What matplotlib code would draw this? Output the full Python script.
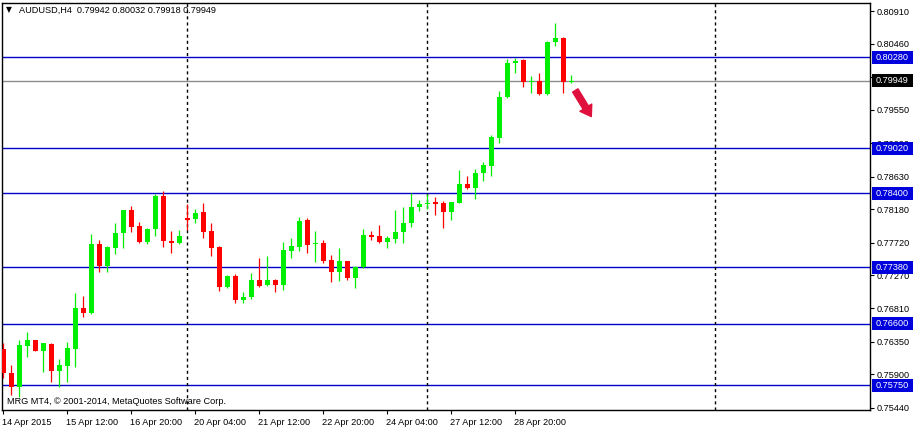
import matplotlib
matplotlib.use("Agg")
import matplotlib.pyplot as plt
from matplotlib.patches import Rectangle
import matplotlib.transforms as mtransforms

# ---------------- data (AUDUSD H4) ----------------
opens = [0.76250, 0.75919, 0.75726, 0.76292, 0.76375, 0.76223, 0.76319, 0.75947, 0.76016, 0.76250,
         0.76816, 0.76747, 0.77699, 0.77396, 0.77644, 0.77851, 0.78169, 0.77948, 0.77727, 0.77906,
         0.78362, 0.77741, 0.77713, 0.78058, 0.78044, 0.78141, 0.77879, 0.77658, 0.77106, 0.77258,
         0.76927, 0.76968, 0.77203, 0.77134, 0.77203, 0.77134, 0.77603, 0.77658, 0.78031, 0.77699,
         0.77713, 0.77479, 0.77313, 0.77465, 0.77230, 0.77382, 0.77824, 0.77810, 0.77727, 0.77768,
         0.77865, 0.77989, 0.78210, 0.78251, 0.78279, 0.78265, 0.78141, 0.78265, 0.78527, 0.78472,
         0.78679, 0.78776, 0.79162, 0.79728, 0.80197, 0.80239, 0.79935, 0.79949, 0.79769, 0.80487,
         0.80542, 0.79942]
highs = [0.76333, 0.76030, 0.76375, 0.76485, 0.76375, 0.76340, 0.76330, 0.76112, 0.76347, 0.77023,
         0.76982, 0.77837, 0.77755, 0.77672, 0.77989, 0.78175, 0.78224, 0.78003, 0.77920, 0.78389,
         0.78431, 0.77879, 0.77893, 0.78251, 0.78182, 0.78265, 0.77989, 0.77665, 0.77272, 0.77285,
         0.77037, 0.77299, 0.77506, 0.77534, 0.77210, 0.77727, 0.77782, 0.78072, 0.78058, 0.77879,
         0.77755, 0.77548, 0.77644, 0.77470, 0.77396, 0.77906, 0.77879, 0.77962, 0.77810, 0.78169,
         0.78210, 0.78403, 0.78307, 0.78389, 0.78348, 0.78293, 0.78285, 0.78721, 0.78638, 0.78734,
         0.78831, 0.79204, 0.79811, 0.80252, 0.80266, 0.80252, 0.80018, 0.80059, 0.80501, 0.80749,
         0.80556, 0.80032]
lows = [0.75850, 0.75616, 0.75588, 0.76140, 0.76223, 0.75933, 0.75795, 0.75726, 0.75795, 0.76002,
        0.76692, 0.76740, 0.77313, 0.77313, 0.77561, 0.77644, 0.77865, 0.77720, 0.77699, 0.77810,
        0.77658, 0.77575, 0.77699, 0.77893, 0.77989, 0.77782, 0.77534, 0.77051, 0.77092, 0.76885,
        0.76885, 0.76940, 0.77106, 0.77120, 0.77037, 0.77065, 0.77506, 0.77603, 0.77575, 0.77451,
        0.77437, 0.77175, 0.77189, 0.77203, 0.77092, 0.77375, 0.77755, 0.77713, 0.77644, 0.77713,
        0.77713, 0.77934, 0.78155, 0.78182, 0.78100, 0.77920, 0.78031, 0.78260, 0.78458, 0.78320,
        0.78569, 0.78638, 0.79093, 0.79714, 0.80059, 0.79866, 0.79783, 0.79756, 0.79756, 0.80432,
        0.79783, 0.79918]
closes = [0.75919, 0.75726, 0.76306, 0.76375, 0.76223, 0.76333, 0.75947, 0.76030, 0.76264, 0.76816,
          0.76747, 0.77699, 0.77396, 0.77658, 0.77851, 0.78169, 0.77934, 0.77727, 0.77906, 0.78362,
          0.77741, 0.77713, 0.77810, 0.78031, 0.78127, 0.77865, 0.77644, 0.77106, 0.77258, 0.76927,
          0.76968, 0.77203, 0.77120, 0.77203, 0.77134, 0.77617, 0.77672, 0.78017, 0.77686, 0.77713,
          0.77465, 0.77313, 0.77465, 0.77230, 0.77382, 0.77824, 0.77796, 0.77727, 0.77782, 0.77865,
          0.77989, 0.78210, 0.78251, 0.78265, 0.78251, 0.78141, 0.78279, 0.78527, 0.78472, 0.78679,
          0.78790, 0.79176, 0.79728, 0.80197, 0.80225, 0.79935, 0.79949, 0.79769, 0.80487, 0.80542,
          0.79935, 0.79949]

level_lines = [0.80280, 0.79020, 0.78400, 0.77380, 0.76600, 0.75750]
current_price = 0.79949

price_ticks = [0.80910, 0.80460, 0.80000, 0.79550, 0.79090, 0.78630, 0.78180,
               0.77720, 0.77270, 0.76810, 0.76350, 0.75900, 0.75440]
time_tick_idx = [0, 8, 16, 24, 32, 40, 48, 56, 64]
time_tick_labels = ["14 Apr 2015", "15 Apr 12:00", "16 Apr 20:00", "20 Apr 04:00",
                    "21 Apr 12:00", "22 Apr 20:00", "24 Apr 04:00", "27 Apr 12:00",
                    "28 Apr 20:00"]
separator_idx = [23, 53, 89]
title = "AUDUSD,H4  0.79942 0.80032 0.79918 0.79949"
copyright_text = "MRG MT4, \u00a9 2001-2014, MetaQuotes Software Corp."

# ---------------- figure ----------------
W, H = 913, 428
fig = plt.figure(figsize=(W / 100, H / 100), dpi=100)
plt.rcParams['font.family'] = ['Liberation Sans', 'DejaVu Sans']
FS = 6.6

ax_l, ax_r, ax_t, ax_b = 2, 870, 2.5, 410
ax = fig.add_axes([ax_l / W, (H - ax_b) / H, (ax_r - ax_l) / W, (ax_b - ax_t) / H])

ymin, ymax = 0.754086, 0.810321
ax.set_ylim(ymin, ymax)
ax.set_xlim(-0.1625, 108.34)
px_price = (ymax - ymin) / (ax_b - ax_t)

GREEN = '#00ee00'
RED = '#ff0000'
n = len(opens)
xs = list(range(n))
for i in xs:
    o, h, l, c = opens[i], highs[i], lows[i], closes[i]
    col = GREEN if c >= o else RED
    ax.vlines(i, l, h, color=col, lw=0.9, zorder=3)
    bot = min(o, c)
    ht = max(abs(c - o), px_price * 1.2)
    if abs(c - o) < px_price * 1.2:
        bot = (o + c) / 2 - ht / 2
    ax.add_patch(Rectangle((i - 0.31, bot), 0.62, ht, facecolor=col, edgecolor='none', zorder=4))

# level lines
for lv in level_lines:
    ax.axhline(lv, color='#0000c8', lw=1.0, zorder=2)
ax.axhline(current_price, color='#8c8c8c', lw=1.0, zorder=2)

# period separators
for s in separator_idx:
    ax.axvline(s, color='black', lw=1.0, linestyle=(0, (2.2, 2.2)), zorder=2.5)

# axes styling
for sp in ax.spines.values():
    sp.set_color('black')
    sp.set_linewidth(1.0)
ax.yaxis.tick_right()
ax.set_yticks(price_ticks)
ax.set_yticklabels([f"{p:.5f}" for p in price_ticks])
ax.tick_params(axis='y', length=3, width=0.8, pad=1.5, labelsize=FS, direction='out')
ax.set_xticks(time_tick_idx)
ax.set_xticklabels(time_tick_labels, ha='left')
ax.tick_params(axis='x', length=3, width=0.8, pad=2.5, labelsize=FS, direction='out')
off = mtransforms.ScaledTranslation(-1.5 / 100, 0, fig.dpi_scale_trans)
for lab in ax.get_xticklabels():
    lab.set_transform(lab.get_transform() + off)

# right-side price label boxes
bt = mtransforms.blended_transform_factory(ax.transAxes, ax.transData)
box_x0 = 1 + 2 / (ax_r - ax_l)
box_w = 41 / (ax_r - ax_l)
box_h = 13 * px_price

def price_box(val, fc):
    ax.add_patch(Rectangle((box_x0, val - box_h / 2), box_w, box_h, transform=bt,
                           facecolor=fc, edgecolor='none', clip_on=False, zorder=10))
    ax.text(box_x0 + 4 / (ax_r - ax_l), val, f"{val:.5f}", transform=bt, ha='left',
            va='center', color='white', fontsize=FS, zorder=11, clip_on=False)

for lv in level_lines:
    price_box(lv, '#0000dc')
price_box(current_price, 'black')

# title & copyright
ax.text(4 / (ax_r - ax_l), (ax_b - 10) / (ax_b - ax_t), "\u25bc", transform=ax.transAxes,
        fontsize=5.5, family='DejaVu Sans', va='center', ha='left', color='black')
ax.text(17 / (ax_r - ax_l), (ax_b - 10) / (ax_b - ax_t), title, transform=ax.transAxes,
        fontsize=FS, va='center', ha='left', color='black')
ax.text(5 / (ax_r - ax_l), (ax_b - 402) / (ax_b - ax_t), copyright_text, transform=ax.transAxes,
        fontsize=FS, va='center', ha='left', color='black')

# red arrow after last bar
last = n - 1
ax.annotate('', xy=(last + 2.5, lows[-1] - 0.0046), xytext=(last + 0.5, lows[-1] - 0.0010),
            arrowprops=dict(arrowstyle='simple,head_length=0.75,head_width=1.0,tail_width=0.45',
                            color='#e0103c', shrinkA=0, shrinkB=0), zorder=6)

fig.savefig('out.png', dpi=100, facecolor='white')
